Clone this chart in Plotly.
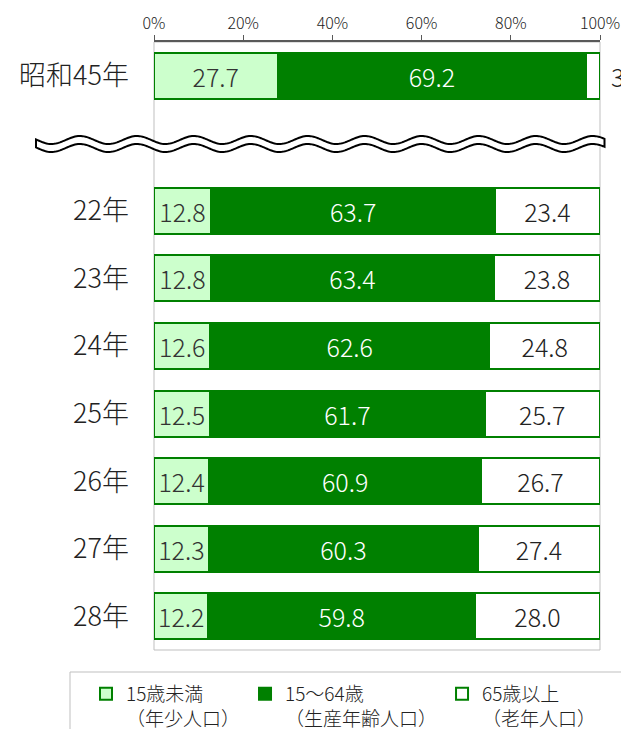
import numpy as np
import plotly.graph_objects as go

# ---- data ----
years = ["昭和45年", "22年", "23年", "24年", "25年", "26年", "27年", "28年"]
young = [27.7, 12.8, 12.8, 12.6, 12.5, 12.4, 12.3, 12.2]      # 15歳未満
working = [69.2, 63.7, 63.4, 62.6, 61.7, 60.9, 60.3, 59.8]    # 15～64歳
old = [3.1, 23.4, 23.8, 24.8, 25.7, 26.7, 27.4, 28.0]         # 65歳以上
series_names = ["15歳未満<br>（年少人口）", "15～64歳<br>（生産年齢人口）", "65歳以上<br>（老年人口）"]
x_ticks = [0, 20, 40, 60, 80, 100]
x_tick_text = ["0%", "20%", "40%", "60%", "80%", "100%"]

GAP = "\u3000"  # empty category standing for the broken axis
cat_order = [years[0], GAP] + years[1:]

FONT = "Noto Sans CJK JP"
W, H = 621, 729
ML, MR, MT, MB = 154, 21, 42, 79
PW, PH = W - ML - MR, H - MT - MB

def px2paper(xp, yp):
    return (xp - ML) / PW, (H - MB - yp) / PH

num_font = lambda c: dict(color=c, size=25, family=FONT, weight=300)

fig = go.Figure()
common = dict(orientation="h", y=years, texttemplate="%{x:.1f}",
              insidetextanchor="middle", constraintext="none", cliponaxis=False,
              marker_line=dict(color="#008000", width=2), width=0.68)

fig.add_trace(go.Bar(x=young, name=series_names[0], marker_color="#CCFFCC",
                     textposition="inside", insidetextfont=num_font("#333333"), **common))
fig.add_trace(go.Bar(x=working, name=series_names[1], marker_color="#008000",
                     textposition="inside", insidetextfont=num_font("#FFFFFF"), **common))
fig.add_trace(go.Bar(x=old, name=series_names[2], marker_color="#FFFFFF",
                     textposition=["none"] + ["inside"] * (len(old) - 1),
                     insidetextfont=num_font("#222222"), **common))

# label of the thin 65+ segment of the first bar, placed just right of the bar
fig.add_annotation(x=young[0] + working[0] + old[0], y=years[0], xref="x", yref="y",
                   text=f"{old[0]:.1f}", showarrow=False, xanchor="left", xshift=9,
                   font=num_font("#222222"))

# wavy break mark (decoration)
xs = np.arange(36, 605.5, 1.5)
yc = 144 - 4 * np.cos(2 * np.pi * (xs - 80) / 57)
top = [px2paper(x, y - 4) for x, y in zip(xs, yc)]
bot = [px2paper(x, y + 4) for x, y in zip(xs[::-1], yc[::-1])]
path = "M" + " L".join(f"{a:.5f},{b:.5f}" for a, b in top + bot) + " Z"

lx0, ly0 = px2paper(70, 672)
lx1, ly1 = px2paper(640, 745)

shapes = [
    dict(type="rect", xref="paper", yref="paper", x0=0, x1=1, y0=0, y1=1,
         line=dict(color="#BFBFBF", width=1), layer="below"),
    dict(type="path", xref="paper", yref="paper", path=path,
         fillcolor="white", line=dict(color="black", width=2), layer="above"),
    dict(type="rect", xref="paper", yref="paper", x0=lx0, x1=lx1, y0=ly0, y1=ly1,
         line=dict(color="#BFBFBF", width=1), fillcolor="rgba(0,0,0,0)", layer="below"),
]

legx, legy = px2paper(86, 675)

fig.update_layout(
    width=W, height=H, barmode="stack", bargap=0.32,
    margin=dict(l=ML, r=MR, t=MT, b=MB, pad=0, autoexpand=False),
    paper_bgcolor="white", plot_bgcolor="white",
    font=dict(family=FONT, color="#222222"),
    shapes=shapes,
    showlegend=True,
    legend=dict(orientation="h", x=legx, y=legy, xanchor="left", yanchor="top",
                font=dict(size=19, family=FONT, color="#222222", weight=300),
                valign="top", bgcolor="rgba(0,0,0,0)", traceorder="normal"),
    xaxis=dict(side="top", range=[0, 100], tickvals=x_ticks, ticktext=x_tick_text,
               showgrid=False, zeroline=False, showline=True, linecolor="#595959",
               linewidth=1.5, ticks="outside", ticklen=5, tickcolor="#595959",
               automargin=False,
               tickfont=dict(size=16, family=FONT, color="#222222", weight=300), fixedrange=True),
    yaxis=dict(type="category", categoryorder="array", categoryarray=cat_order,
               range=[len(cat_order) - 0.5, -0.5], showgrid=False, zeroline=False,
               showline=False, ticks="", ticklabelstandoff=24, automargin=False,
               tickfont=dict(size=27, family=FONT, color="#222222", weight=300)),
)

fig.write_html("out.html", config={"displayModeBar": False},
               post_script="document.body.style.margin='0';")
